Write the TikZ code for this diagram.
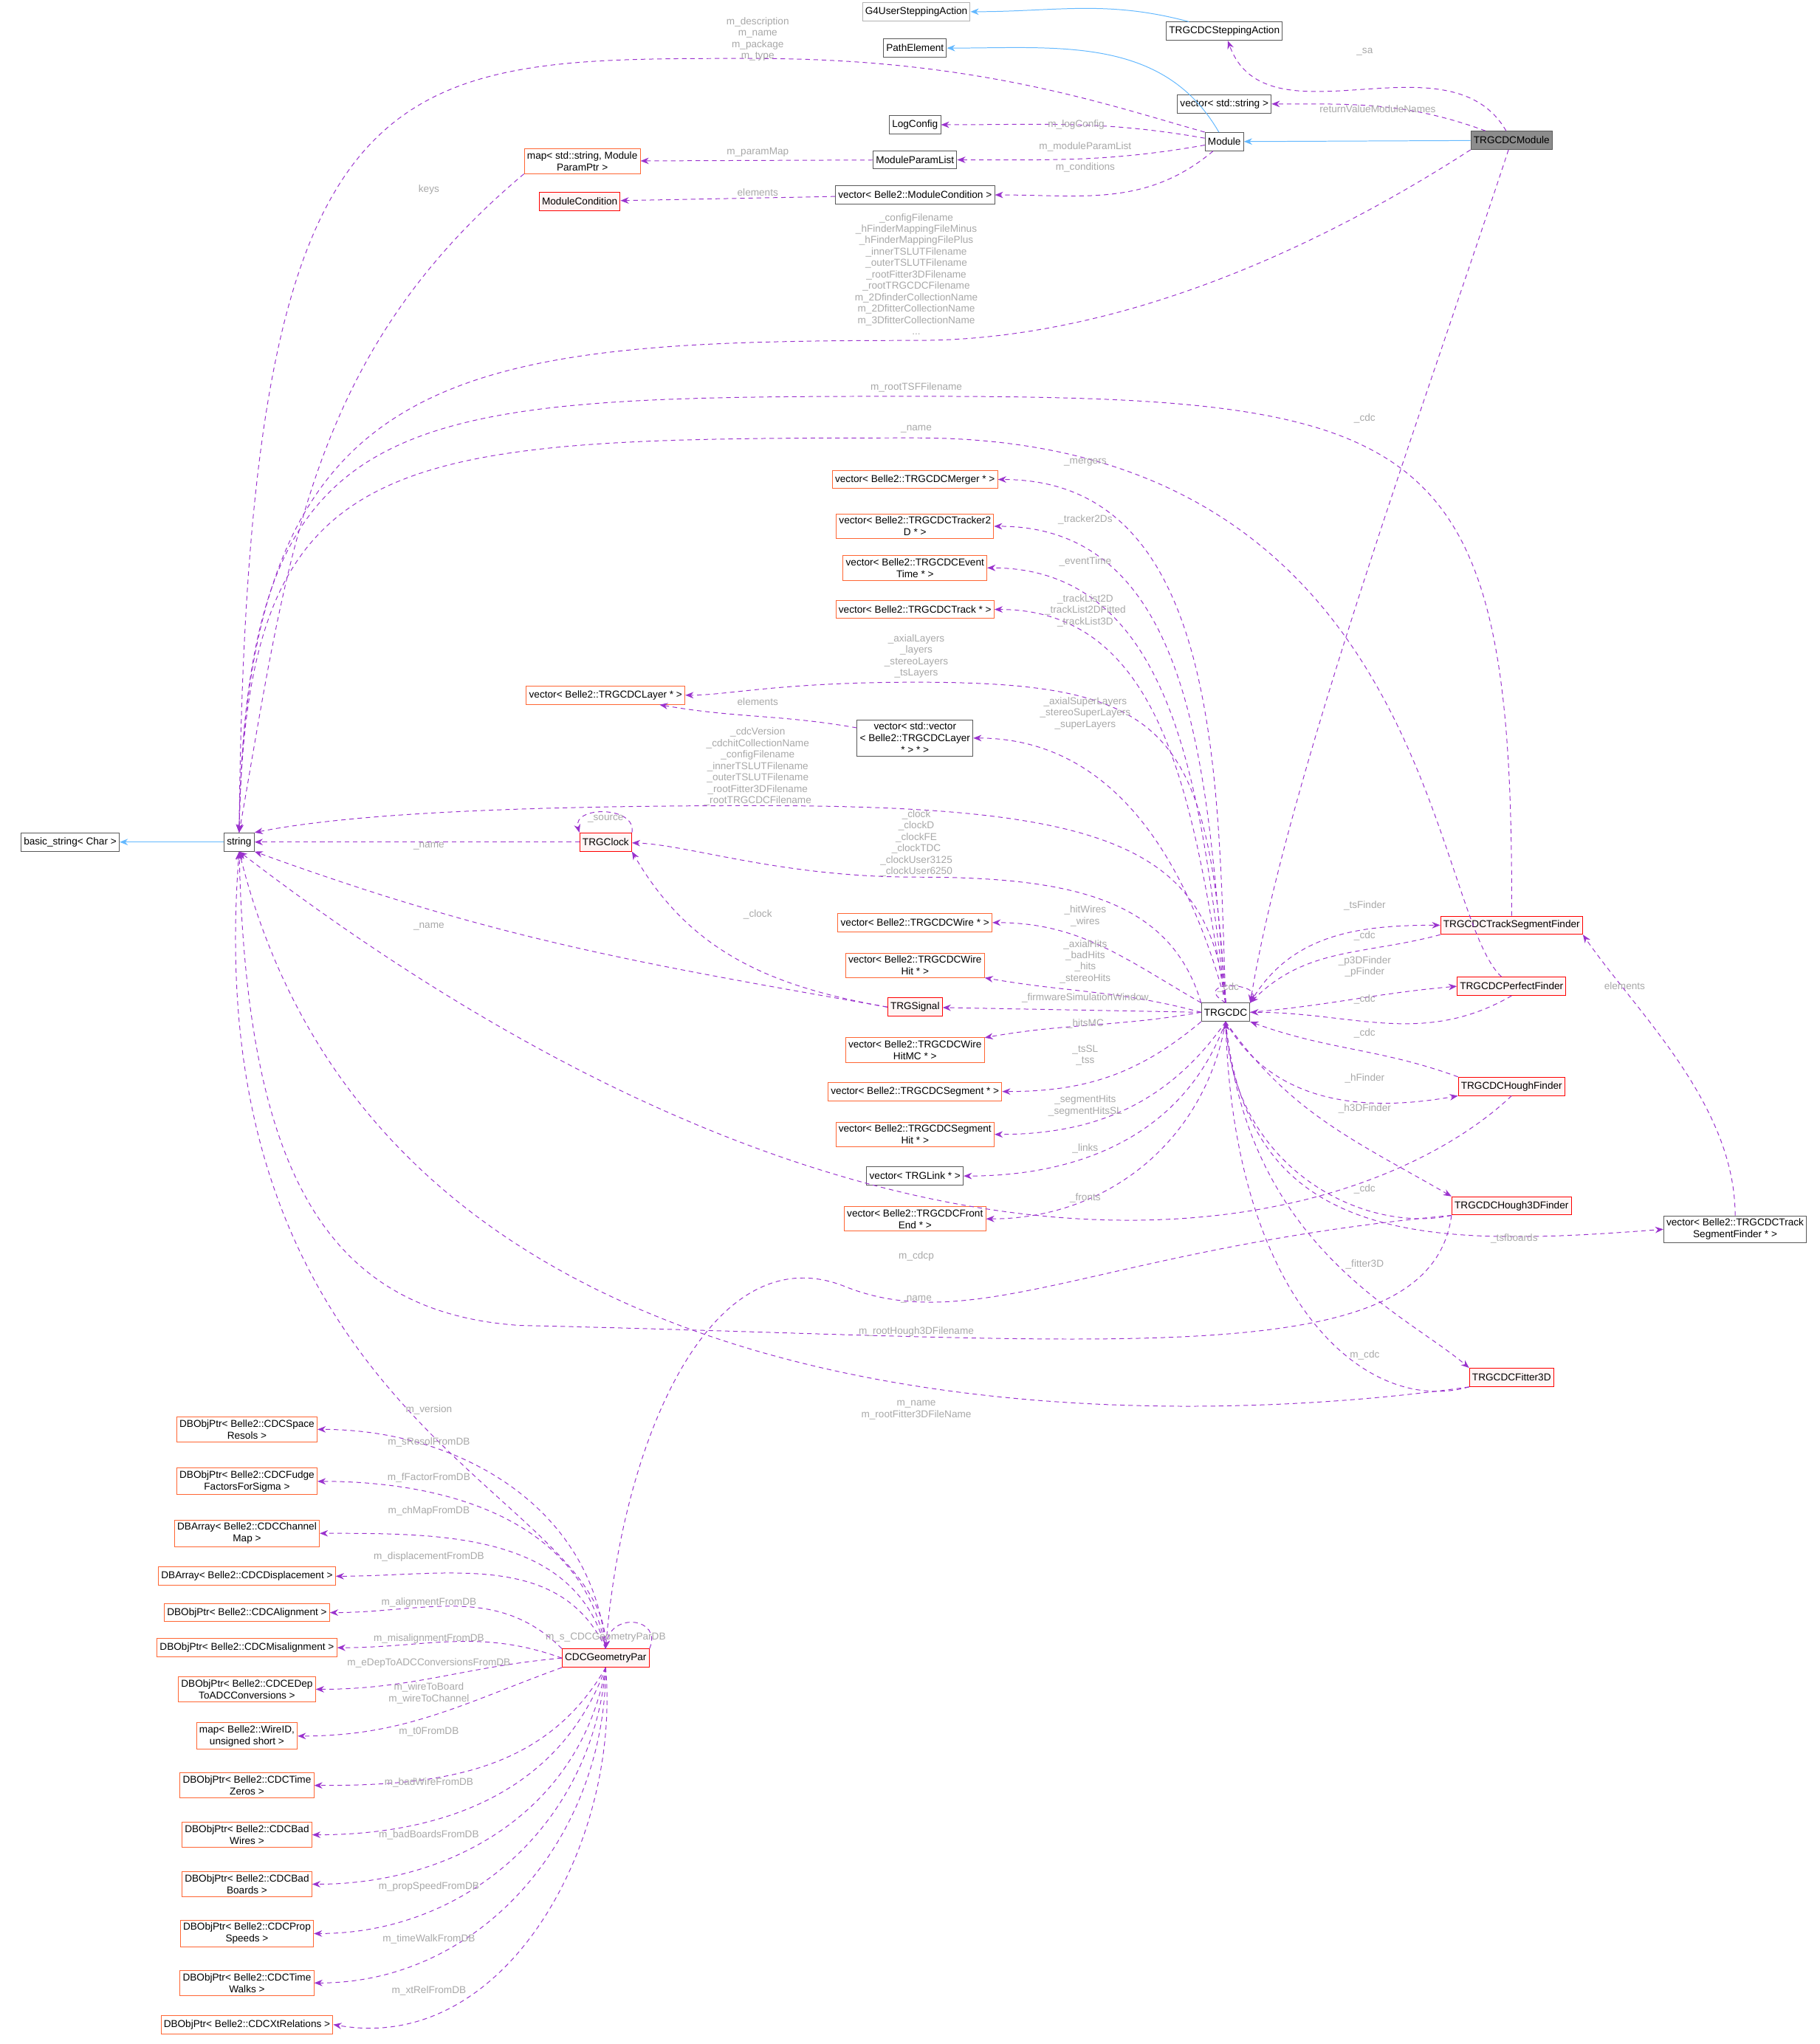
\documentclass[tikz,border=0pt]{standalone}
\usepackage{fontspec}
\setmainfont{Liberation Sans}
\usetikzlibrary{arrows.meta,positioning}
\definecolor{edgepurple}{HTML}{9A32CD}
\definecolor{edgeblue}{HTML}{63B8FF}
\definecolor{lblgray}{HTML}{A8A8A8}
\definecolor{boxred}{HTML}{FF0000}
\definecolor{boxorange}{HTML}{FF6633}
\tikzset{
  cls/.style={draw=black!65, line width=0.8pt, fill=white, font=\fontsize{11}{13}\selectfont, align=center, inner sep=3pt, minimum height=20pt},
  clsred/.style={cls, draw=boxred, fill=red!4},
  clsorg/.style={cls, draw=boxorange},
  uses/.style={draw=edgepurple, line width=0.8pt, dashed, dash pattern=on 5pt off 4pt, -{Stealth[length=9pt,width=7pt]}},
  inherit/.style={draw=edgeblue, line width=0.8pt, -{Stealth[length=9pt,width=7pt]}},
  lbl/.style={text=lblgray, font=\fontsize{11}{12.5}\selectfont, align=center, inner sep=0pt}
}
\begin{document}
\begin{tikzpicture}[x=0.05cm,y=-0.05cm]
\useasboundingbox (0,0) rectangle (1400,1573);

% top classes
\node (g4step) [cls, draw=black!30] at (705,9) {G4UserSteppingAction};
\node (stepact) [cls] at (942,24) {TRGCDCSteppingAction};
\node (pathel) [cls] at (704,37) {PathElement};
\node (vecstr) [cls] at (942,80) {vector< std::string >};
\node (logcfg) [cls] at (704,96) {LogConfig};
\node (module) [cls] at (942,109) {Module};
\node (trgmodule) [cls, fill=black!45] at (1163,108) {TRGCDCModule};
\node (parammap) [clsorg] at (448,124) {map< std::string, Module\\ParamPtr >};
\node (paramlist) [cls] at (704,123) {ModuleParamList};
\node (modcond) [clsred] at (446,155) {ModuleCondition};
\node (veccond) [cls] at (704,150) {vector< Belle2::ModuleCondition >};

% string
\node (basicstr) [cls] at (54,648) {basic\_string< Char >};
\node (str) [cls] at (184,648) {string};

% TRGCDC members
\node (merger) [clsorg] at (704,369) {vector< Belle2::TRGCDCMerger * >};
\node (tracker) [clsorg] at (704,405) {vector< Belle2::TRGCDCTracker2\\D * >};
\node (evtime) [clsorg] at (704,437) {vector< Belle2::TRGCDCEvent\\Time * >};
\node (track) [clsorg] at (704,469) {vector< Belle2::TRGCDCTrack * >};
\node (layer) [clsorg] at (466,535) {vector< Belle2::TRGCDCLayer * >};
\node (suplayer) [cls] at (704,568) {vector< std::vector\\< Belle2::TRGCDCLayer\\ * > * >};
\node (clock) [clsred] at (466,648) {TRGClock};
\node (wire) [clsorg] at (704,710) {vector< Belle2::TRGCDCWire * >};
\node (wirehit) [clsorg] at (704,743) {vector< Belle2::TRGCDCWire\\Hit * >};
\node (signal) [clsred] at (704,775) {TRGSignal};
\node (wirehitmc) [clsorg] at (704,808) {vector< Belle2::TRGCDCWire\\HitMC * >};
\node (segment) [clsorg] at (704,840) {vector< Belle2::TRGCDCSegment * >};
\node (seghit) [clsorg] at (704,873) {vector< Belle2::TRGCDCSegment\\Hit * >};
\node (link) [cls] at (704,905) {vector< TRGLink * >};
\node (front) [clsorg] at (704,938) {vector< Belle2::TRGCDCFront\\End * >};
\node (trgcdc) [cls] at (943,779) {TRGCDC};

% finders
\node (tsf) [clsred] at (1163,712) {TRGCDCTrackSegmentFinder};
\node (perfect) [clsred] at (1163,759) {TRGCDCPerfectFinder};
\node (hough) [clsred] at (1163,836) {TRGCDCHoughFinder};
\node (hough3d) [clsred] at (1163,928) {TRGCDCHough3DFinder};
\node (vectsf) [cls] at (1335,946) {vector< Belle2::TRGCDCTrack\\SegmentFinder * >};
\node (fitter) [clsred] at (1163,1060) {TRGCDCFitter3D};

% geometry
\node (geopar) [clsred] at (466,1276) {CDCGeometryPar};
\node (sresol) [clsorg] at (190,1100) {DBObjPtr< Belle2::CDCSpace\\Resols >};
\node (fudge) [clsorg] at (190,1140) {DBObjPtr< Belle2::CDCFudge\\FactorsForSigma >};
\node (chmap) [clsorg] at (190,1180) {DBArray< Belle2::CDCChannel\\Map >};
\node (displ) [clsorg] at (190,1213) {DBArray< Belle2::CDCDisplacement >};
\node (align) [clsorg] at (190,1241) {DBObjPtr< Belle2::CDCAlignment >};
\node (misalign) [clsorg] at (190,1268) {DBObjPtr< Belle2::CDCMisalignment >};
\node (edep) [clsorg] at (190,1300) {DBObjPtr< Belle2::CDCEDep\\ToADCConversions >};
\node (wiremap) [clsorg] at (190,1336) {map< Belle2::WireID,\\unsigned short >};
\node (tzero) [clsorg] at (190,1374) {DBObjPtr< Belle2::CDCTime\\Zeros >};
\node (badwire) [clsorg] at (190,1412) {DBObjPtr< Belle2::CDCBad\\Wires >};
\node (badboard) [clsorg] at (190,1450) {DBObjPtr< Belle2::CDCBad\\Boards >};
\node (propspeed) [clsorg] at (190,1488) {DBObjPtr< Belle2::CDCProp\\Speeds >};
\node (timewalk) [clsorg] at (190,1526) {DBObjPtr< Belle2::CDCTime\\Walks >};
\node (xtrel) [clsorg] at (190,1558) {DBObjPtr< Belle2::CDCXtRelations >};

% inheritance
\draw [inherit] (stepact) to[out=165,in=0] (g4step);
\draw [inherit] (module) to[out=120,in=0] (pathel);
\draw [inherit] (trgmodule) -- (module);
\draw [inherit] (str) -- (basicstr);

% module members
\draw [uses] (module.north west) .. controls (850,80) and (750,45) .. (580,45) .. controls (300,45) and (190,40) .. (str.north);
\node [lbl] at (583,30) {m\_description\\m\_name\\m\_package\\m\_type};
\draw [uses] (module) to[out=170,in=0] (logcfg);
\node [lbl] at (828,96) {m\_logConfig};
\draw [uses] (module) to[out=190,in=0] (paramlist);
\node [lbl] at (835,113) {m\_moduleParamList};
\draw [uses] (module) to[out=220,in=0] (veccond);
\node [lbl] at (835,129) {m\_conditions};
\draw [uses] (paramlist) -- (parammap);
\node [lbl] at (583,117) {m\_paramMap};
\draw [uses] (veccond) -- (modcond);
\node [lbl] at (583,148) {elements};
\draw [uses] (parammap.south west) to[out=220,in=80] (str.north);
\node [lbl] at (330,146) {keys};
\draw [uses] (trgmodule) to[out=160,in=0] (vecstr);
\node [lbl] at (1060,84) {returnValueModuleNames};
\draw [uses] (trgmodule) to[out=120,in=-70] (stepact);
\node [lbl] at (1050,40) {\_sa};
\draw [uses] (trgmodule.south west) .. controls (1000,200) and (850,262) .. (705,262) .. controls (350,262) and (190,280) .. (str.north);
\node [lbl] at (705,211) {\_configFilename\\\_hFinderMappingFileMinus\\\_hFinderMappingFilePlus\\\_innerTSLUTFilename\\\_outerTSLUTFilename\\\_rootFitter3DFilename\\\_rootTRGCDCFilename\\m\_2DfinderCollectionName\\m\_2DfitterCollectionName\\m\_3DfitterCollectionName\\...};
\draw [uses] (trgmodule) .. controls (1100,300) and (990,600) .. (trgcdc.north east);
\node [lbl] at (1050,322) {\_cdc};

% finders to string
\draw [uses] (tsf.north) .. controls (1165,330) and (1100,305) .. (705,305) .. controls (300,305) and (190,310) .. (str.north);
\node [lbl] at (705,298) {m\_rootTSFFilename};
\draw [uses] (perfect) .. controls (1100,700) and (1100,337) .. (705,337) .. controls (300,337) and (190,340) .. (str.north);
\node [lbl] at (705,330) {\_name};

% TRGCDC members
\draw [uses] (trgcdc.north) to[out=92,in=0] (merger);
\node [lbl] at (835,356) {\_mergers};
\draw [uses] (trgcdc.north) to[out=95,in=0] (tracker);
\node [lbl] at (835,400) {\_tracker2Ds};
\draw [uses] (trgcdc.north) to[out=97,in=0] (evtime);
\node [lbl] at (835,432) {\_eventTime};
\draw [uses] (trgcdc.north) to[out=100,in=0] (track);
\node [lbl] at (835,470) {\_trackList2D\\\_trackList2DFitted\\\_trackList3D};
\draw [uses] (trgcdc.north) .. controls (930,560) and (900,525) .. (705,525) .. controls (600,525) and (560,535) .. (layer);
\node [lbl] at (705,505) {\_axialLayers\\\_layers\\\_stereoLayers\\\_tsLayers};
\draw [uses] (suplayer) to[out=170,in=-10] (layer);
\node [lbl] at (583,540) {elements};
\draw [uses] (trgcdc.north) to[out=105,in=0] (suplayer);
\node [lbl] at (835,549) {\_axialSuperLayers\\\_stereoSuperLayers\\\_superLayers};
\draw [uses] (trgcdc.north) .. controls (930,650) and (850,620) .. (583,620) .. controls (350,620) and (250,630) .. (str.north east);
\node [lbl] at (583,590) {\_cdcVersion\\\_cdchitCollectionName\\\_configFilename\\\_innerTSLUTFilename\\\_outerTSLUTFilename\\\_rootFitter3DFilename\\\_rootTRGCDCFilename};
\draw [uses] (trgcdc.north west) .. controls (900,690) and (820,675) .. (705,675) .. controls (600,675) and (530,650) .. (clock);
\node [lbl] at (705,649) {\_clock\\\_clockD\\\_clockFE\\\_clockTDC\\\_clockUser3125\\\_clockUser6250};
\draw [uses] (clock) -- (str);
\node [lbl] at (330,651) {\_name};
\draw [uses] (clock.north east) .. controls (490,620) and (440,620) .. (clock.north west);
\node [lbl] at (466,630) {\_source};
\draw [uses] (signal.west) to[out=170,in=-60] (clock.south east);
\node [lbl] at (583,704) {\_clock};
\draw [uses] (signal.west) to[out=170,in=-20] (str.south east);
\node [lbl] at (330,713) {\_name};
\draw [uses] (trgcdc.north west) to[out=150,in=0] (wire);
\node [lbl] at (835,705) {\_hitWires\\\_wires};
\draw [uses] (trgcdc.west) to[out=165,in=-10] (wirehit);
\node [lbl] at (835,740) {\_axialHits\\\_badHits\\\_hits\\\_stereoHits};
\draw [uses] (trgcdc.west) -- (signal);
\node [lbl] at (835,768) {\_firmwareSimulationWindow};
\draw [uses] (trgcdc.west) to[out=190,in=10] (wirehitmc);
\node [lbl] at (835,788) {\_hitsMC};
\draw [uses] (trgcdc.south west) to[out=220,in=0] (segment);
\node [lbl] at (835,812) {\_tsSL\\\_tss};
\draw [uses] (trgcdc.south) to[out=235,in=0] (seghit);
\node [lbl] at (835,851) {\_segmentHits\\\_segmentHitsSL};
\draw [uses] (trgcdc.south) to[out=250,in=0] (link);
\node [lbl] at (835,884) {\_links};
\draw [uses] (trgcdc.south) to[out=260,in=0] (front);
\node [lbl] at (835,922) {\_fronts};
\draw [uses] (trgcdc.north) .. controls (915,755) and (970,755) .. (trgcdc.north east);
\node [lbl] at (945,760) {\_cdc};

% finders
\draw [uses] (trgcdc.north east) to[out=60,in=180] (tsf.west);
\node [lbl] at (1050,697) {\_tsFinder};
\draw [uses] (tsf.south west) to[out=195,in=45] (trgcdc.north east);
\node [lbl] at (1050,720) {\_cdc};
\draw [uses] (trgcdc.east) to[out=5,in=185] (perfect.west);
\node [lbl] at (1050,744) {\_p3DFinder\\\_pFinder};
\draw [uses] (perfect.south) to[out=210,in=0] (trgcdc.east);
\node [lbl] at (1050,769) {\_cdc};
\draw [uses] (hough.north west) to[out=160,in=-20] (trgcdc.south east);
\node [lbl] at (1050,795) {\_cdc};
\draw [uses] (trgcdc.south) to[out=-60,in=190] (hough.south west);
\node [lbl] at (1050,830) {\_hFinder};
\draw [uses] (trgcdc.south) to[out=-55,in=150] (hough3d.north west);
\node [lbl] at (1050,853) {\_h3DFinder};
\draw [uses] (hough3d.south west) .. controls (1050,950) and (950,900) .. (trgcdc.south);
\node [lbl] at (1050,915) {\_cdc};
\draw [uses] (trgcdc.south) .. controls (960,960) and (1100,960) .. (vectsf.west);
\node [lbl] at (1165,953) {\_tsfboards};
\draw [uses] (vectsf.north) .. controls (1335,850) and (1260,780) .. (tsf.south east);
\node [lbl] at (1250,759) {elements};
\draw [uses] (trgcdc.south) .. controls (960,960) and (1080,1010) .. (fitter.north west);
\node [lbl] at (1050,973) {\_fitter3D};
\draw [uses] (fitter.south west) .. controls (1050,1090) and (950,1000) .. (trgcdc.south);
\node [lbl] at (1050,1043) {m\_cdc};

% finders to string and geometry
\draw [uses] (hough.south) .. controls (1050,950) and (700,1050) .. (str.south);
\node [lbl] at (705,1000) {\_name};
\draw [uses] (hough3d.south west) .. controls (1100,1060) and (850,1030) .. (400,1020) .. controls (250,1010) and (190,900) .. (str.south);
\node [lbl] at (705,1025) {m\_rootHough3DFilename};
\draw [uses] (hough3d.south west) .. controls (850,960) and (750,1030) .. (650,990) .. controls (550,950) and (480,1100) .. (geopar.north);
\node [lbl] at (705,967) {m\_cdcp};
\draw [uses] (fitter.south west) .. controls (900,1100) and (300,1120) .. (str.south);
\node [lbl] at (705,1085) {m\_name\\m\_rootFitter3DFileName};

% geometry members
\draw [uses] (geopar.north) .. controls (470,1150) and (150,1100) .. (str.south);
\node [lbl] at (330,1085) {m\_version};
\draw [uses] (geopar.north) to[out=95,in=0] (sresol);
\node [lbl] at (330,1110) {m\_sResolFromDB};
\draw [uses] (geopar.north) to[out=100,in=0] (fudge);
\node [lbl] at (330,1137) {m\_fFactorFromDB};
\draw [uses] (geopar.north) to[out=105,in=0] (chmap);
\node [lbl] at (330,1163) {m\_chMapFromDB};
\draw [uses] (geopar.north) to[out=115,in=0] (displ);
\node [lbl] at (330,1198) {m\_displacementFromDB};
\draw [uses] (geopar.north west) to[out=135,in=0] (align);
\node [lbl] at (330,1233) {m\_alignmentFromDB};
\draw [uses] (geopar.west) to[out=160,in=0] (misalign);
\node [lbl] at (330,1261) {m\_misalignmentFromDB};
\draw [uses] (geopar.west) to[out=185,in=0] (edep);
\node [lbl] at (330,1280) {m\_eDepToADCConversionsFromDB};
\draw [uses] (geopar.south west) to[out=200,in=0] (wiremap);
\node [lbl] at (330,1303) {m\_wireToBoard\\m\_wireToChannel};
\draw [uses] (geopar.south) to[out=240,in=0] (tzero);
\node [lbl] at (330,1333) {m\_t0FromDB};
\draw [uses] (geopar.south) to[out=250,in=0] (badwire);
\node [lbl] at (330,1372) {m\_badWireFromDB};
\draw [uses] (geopar.south) to[out=260,in=0] (badboard);
\node [lbl] at (330,1412) {m\_badBoardsFromDB};
\draw [uses] (geopar.south) to[out=265,in=0] (propspeed);
\node [lbl] at (330,1452) {m\_propSpeedFromDB};
\draw [uses] (geopar.south) to[out=270,in=0] (timewalk);
\node [lbl] at (330,1492) {m\_timeWalkFromDB};
\draw [uses] (geopar.south) to[out=275,in=-10] (xtrel.east);
\node [lbl] at (330,1532) {m\_xtRelFromDB};
\draw [uses] (geopar.north east) .. controls (510,1245) and (470,1240) .. (geopar.north);
\node [lbl] at (466,1260) {m\_s\_CDCGeometryParDB};

\end{tikzpicture}
\end{document}
